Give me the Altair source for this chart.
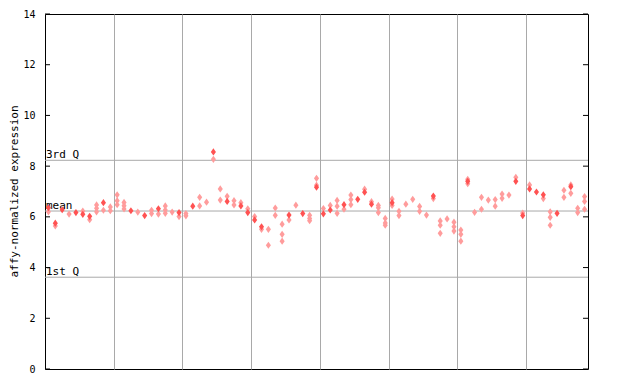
import altair as alt
import pandas as pd

# ---- data ----
hollow_values = [
    [6.20], [5.64], [], [6.11], [], [6.23], [5.89], [6.47, 6.34, 6.20], [6.26], [6.39, 6.24],
    [6.87, 6.64, 6.48], [6.57, 6.44, 6.31], [], [6.19], [], [6.26, 6.13], [6.11], [6.43, 6.27, 6.14], [6.19], [6.01],
    [6.13, 6.04], [], [6.77, 6.43], [6.58], [8.27], [7.10, 6.66], [6.81], [6.64, 6.47], [6.56], [6.32],
    [6.01], [5.51], [5.51, 4.88], [6.35, 6.06], [5.71, 5.31, 5.04], [5.88], [6.46], [], [6.06, 5.94, 5.85], [7.52, 7.25],
    [6.33], [6.45], [6.65, 6.42, 6.14], [6.30], [6.86, 6.68, 6.48], [], [7.09], [6.60], [6.45, 6.36, 6.17], [5.94, 5.76, 5.67],
    [6.70, 6.45], [6.22, 6.05], [6.50], [6.69], [6.41, 6.22], [6.07], [6.72], [5.84, 5.67, 5.35], [5.92], [5.79, 5.61, 5.44],
    [5.48, 5.31, 5.04], [7.48, 7.31], [6.18], [6.77, 6.30], [6.66], [6.68, 6.42], [6.90, 6.73], [6.86], [7.56], [6.15],
    [7.26], [], [6.72], [6.20, 5.98, 5.67], [], [7.05, 6.77], [7.26, 6.93], [6.34, 6.17], [6.80, 6.61, 6.30],
]
solid_values = [
    6.36, 5.75, 6.28, None, 6.17, 6.10, 6.02, None, 6.56, None,
    None, None, 6.24, None, 6.05, None, 6.32, None, None, 6.17,
    None, 6.42, None, None, 8.56, None, 6.61, None, 6.43, 6.17,
    5.88, 5.61, None, None, None, 6.07, None, 6.13, None, 7.17,
    6.12, 6.27, None, 6.48, None, 6.69, 6.97, 6.50, None, None,
    6.56, None, None, None, None, None, 6.82, None, None, None,
    None, 7.40, None, None, None, None, None, None, 7.40, 6.05,
    7.10, 6.98, 6.87, None, 6.14, None, 7.19, None, None,
]
quartile_names = ["3rd Q", "mean", "1st Q"]
quartile_values = [8.23, 6.23, 3.62]
y_ticks = [0, 2, 4, 6, 8, 10, 12, 14]
group_lines = [10, 20, 30, 40, 50, 60, 70]
n_samples = 79
y_title = "affy-normalized expression"

W, H = 543, 355
RED = "#ff5252"
PINK = "#ff9c9c"
GRID = "#a9a9a9"
MONO = "DejaVu Sans Mono"
DIAMOND = "M0,-1.2L0.85,0L0,1.2L-0.85,0Z"

hollow_df = pd.DataFrame(
    [{"pos": i + 0.5, "value": v} for i, vals in enumerate(hollow_values) for v in vals]
)
solid_df = pd.DataFrame(
    [{"pos": i + 0.5, "value": v} for i, v in enumerate(solid_values) if v is not None]
)
q_df = pd.DataFrame({"label": quartile_names, "value": quartile_values})
tick_df = pd.DataFrame({"value": y_ticks})

xscale = alt.Scale(domain=[0, n_samples], nice=False, zero=False)
yscale = alt.Scale(domain=[0, 14], nice=False, zero=False)

x_enc = alt.X(
    "pos:Q", scale=xscale,
    axis=alt.Axis(values=group_lines, grid=True, gridColor=GRID, gridOpacity=1, gridWidth=1,
                  labels=False, ticks=False, domain=False, title=None),
)
y_enc = alt.Y(
    "value:Q", scale=yscale,
    axis=alt.Axis(values=y_ticks, grid=False, ticks=False, domain=False, title=None,
                  labelFont=MONO, labelFontSize=10, labelColor="black", labelPadding=10),
)
y_plain = alt.Y("value:Q", scale=yscale)

qlines = alt.Chart(q_df).mark_rule(color=GRID, strokeWidth=1).encode(y=y_enc)
qtext = alt.Chart(q_df).mark_text(
    align="left", baseline="bottom", dx=1, dy=0, font=MONO, fontSize=11, color="black"
).encode(x=alt.value(0), y=y_plain, text="label:N")

hollow = alt.Chart(hollow_df).mark_point(
    shape=DIAMOND, filled=True, size=36, color=PINK, opacity=1, strokeWidth=0
).encode(x=x_enc, y=y_plain)
solid = alt.Chart(solid_df).mark_point(
    shape=DIAMOND, filled=True, size=36, color=RED, opacity=1, strokeWidth=0
).encode(x=alt.X("pos:Q", scale=xscale), y=y_plain)

ticks_left = alt.Chart(tick_df).mark_rule(color="black", strokeWidth=1).encode(
    y=y_plain, x=alt.value(0), x2=alt.value(5)
)
ticks_right = alt.Chart(tick_df).mark_rule(color="black", strokeWidth=1).encode(
    y=y_plain, x=alt.value(W - 5), x2=alt.value(W)
)
title = alt.Chart(pd.DataFrame({"t": [y_title]})).mark_text(
    angle=270, align="center", baseline="middle", font=MONO, fontSize=11, color="black"
).encode(x=alt.value(-30), y=alt.value(H / 2), text="t:N")

chart = alt.layer(qlines, qtext, hollow, solid, ticks_left, ticks_right, title).properties(
    width=W, height=H,
    autosize=alt.AutoSizeParams(type="none"),
    padding={"left": 37, "top": 6, "right": 30, "bottom": 10},
    background="white",
).configure_view(stroke="black", strokeWidth=1)

chart.save("out.html", embed_options={"renderer": "svg", "actions": False})
